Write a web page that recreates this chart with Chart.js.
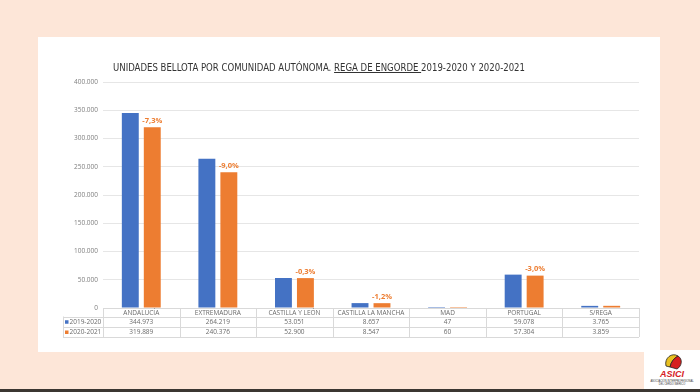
<!DOCTYPE html>
<html><head><meta charset="utf-8">
<script src="https://cdn.jsdelivr.net/npm/chart.js@4"></script>
<style>
html,body{margin:0;padding:0;width:700px;height:392px;overflow:hidden;background:#fde6d8;font-family:"Open Sans",sans-serif;}
#panel{position:absolute;left:38px;top:37px;width:622px;height:315px;background:#fff;}
#wrap{position:absolute;left:0;top:0;width:622px;height:315px;}
#title{position:absolute;left:113px;top:61px;font-size:11px;color:#333;white-space:nowrap;transform-origin:0 0;font-family:"DejaVu Sans",sans-serif;font-weight:normal;}
#strip{position:absolute;left:0;top:389px;width:700px;height:3px;background:#3b3631;}
#logo{position:absolute;left:644px;top:350px;}
</style></head>
<body>
<div id="panel"><div id="wrap"><canvas id="c"></canvas></div></div>
<div id="title">UNIDADES BELLOTA POR COMUNIDAD AUTÓNOMA. <u>REGA DE ENGORDE </u>2019-2020 Y 2020-2021</div>
<svg id="logo" width="56" height="39" viewBox="0 0 56 39">
<rect x="0" y="0" width="56" height="39" fill="#fff"/>
<path d="M22 16 C20 8 28 2 34 6 C30 8 27 12 26 17 Z" fill="#e8c020" stroke="#222" stroke-width="0.8"/>
<path d="M26 17 C27 12 30 8 34 6 C39 9 38 16 33 19 Z" fill="#d6201f" stroke="#222" stroke-width="0.8"/>
<text x="28" y="27" text-anchor="middle" font-family="Liberation Sans" font-weight="bold" font-style="italic" font-size="9" fill="#d6201f">ASICI</text>
<text x="28" y="31.5" text-anchor="middle" font-family="Liberation Sans" font-size="2.6" fill="#333">ASOCIACIÓN INTERPROFESIONAL</text>
<text x="28" y="34.5" text-anchor="middle" font-family="Liberation Sans" font-size="2.6" fill="#333">DEL CERDO IBÉRICO</text>
</svg>
<div id="strip"></div>
<script>
const categories = ['ANDALUCÍA','EXTREMADURA','CASTILLA Y LEÓN','CASTILLA LA MANCHA','MAD','PORTUGAL','S/REGA'];
const seriesNames = ['2019-2020','2020-2021'];
const s2019 = [344973,264219,53051,8657,47,59078,3765];
const s2020 = [319889,240376,52900,8547,60,57304,3859];
const changes = ['-7,3%','-9,0%','-0,3%','-1,2%','','-3,0%',''];
const yMax = 400000, yStep = 50000;
const colors = ['#4472C4','#ED7D31'];

function fmt(n){return String(n).replace(/\B(?=(\d{3})+(?!\d))/g,'.');}

const t = document.getElementById('title');
const w = t.getBoundingClientRect().width;
t.style.transform = 'scaleX(' + (412 / w) + ')';

const tablePlugin = {
  id:'table',
  afterDraw(chart){
    const ctx = chart.ctx, ca = chart.chartArea;
    const n = categories.length, cw = (ca.right - ca.left)/n;
    const y0 = ca.bottom, y1 = y0 + 8.5, y2 = y1 + 10.5, y3 = y2 + 10;
    const lx = 25;
    ctx.save();
    ctx.strokeStyle = '#d9d9d9'; ctx.lineWidth = 1;
    ctx.beginPath();
    ctx.moveTo(ca.left, Math.round(y0)+0.5); ctx.lineTo(ca.right, Math.round(y0)+0.5);
    [y1,y2,y3].forEach(y=>{ctx.moveTo(lx, Math.round(y)+0.5); ctx.lineTo(ca.right, Math.round(y)+0.5);});
    for(let i=0;i<=n;i++){const x=Math.round(ca.left+i*cw)+0.5; ctx.moveTo(x,y0); ctx.lineTo(x,y3);}
    ctx.moveTo(lx+0.5,y1); ctx.lineTo(lx+0.5,y3);
    ctx.stroke();
    ctx.fillStyle = '#6b6b6b';
    ctx.font = '6.5px "Open Sans", sans-serif';
    ctx.textAlign = 'center'; ctx.textBaseline = 'middle';
    const rows = [s2019, s2020], ry = [(y1+y2)/2, (y2+y3)/2];
    for(let i=0;i<n;i++){
      const cx = ca.left + (i+0.5)*cw;
      ctx.fillText(categories[i], cx, (y0+y1)/2+0.5);
      rows.forEach((r,k)=>ctx.fillText(fmt(r[i]), cx, ry[k]+0.5));
    }
    ctx.textAlign = 'left';
    seriesNames.forEach((s,k)=>{
      ctx.fillStyle = colors[k];
      ctx.fillRect(lx+2, ry[k]-1.5, 3.5, 3.5);
      ctx.fillStyle = '#6b6b6b';
      ctx.fillText(s, lx+6.5, ry[k]+0.5);
    });
    ctx.restore();
  }
};

const labelPlugin = {
  id:'pct',
  afterDatasetsDraw(chart){
    const ctx = chart.ctx, meta = chart.getDatasetMeta(1);
    ctx.save();
    ctx.fillStyle = '#ED7D31';
    ctx.font = 'bold 7.5px "Open Sans", sans-serif';
    ctx.textAlign = 'center'; ctx.textBaseline = 'bottom';
    meta.data.forEach((bar,i)=>{ if(changes[i]) ctx.fillText(changes[i], bar.x, bar.y - 3); });
    ctx.restore();
  }
};

new Chart(document.getElementById('c'), {
  type:'bar',
  data:{
    labels: categories,
    datasets:[
      {label:seriesNames[0], data:s2019, backgroundColor:colors[0], borderWidth:0},
      {label:seriesNames[1], data:s2020, backgroundColor:colors[1], borderWidth:0}
    ]
  },
  options:{
    responsive:true, maintainAspectRatio:false, animation:false,
    layout:{padding:{left:0,right:21,top:45,bottom:44}},
    datasets:{bar:{categoryPercentage:0.574, barPercentage:0.77}},
    plugins:{legend:{display:false}, tooltip:{enabled:false}, title:{display:false}},
    scales:{
      x:{display:false},
      y:{
        min:0, max:yMax,
        afterFit(s){ s.width = 65; },
        border:{display:false},
        grid:{color:'#e6e6e6', drawTicks:false},
        ticks:{stepSize:yStep, padding:5, color:'#7f7f7f', font:{size:6.5, family:'"Open Sans", sans-serif'}, callback:v=>fmt(v)}
      }
    }
  },
  plugins:[tablePlugin, labelPlugin]
});
</script>
</body></html>
